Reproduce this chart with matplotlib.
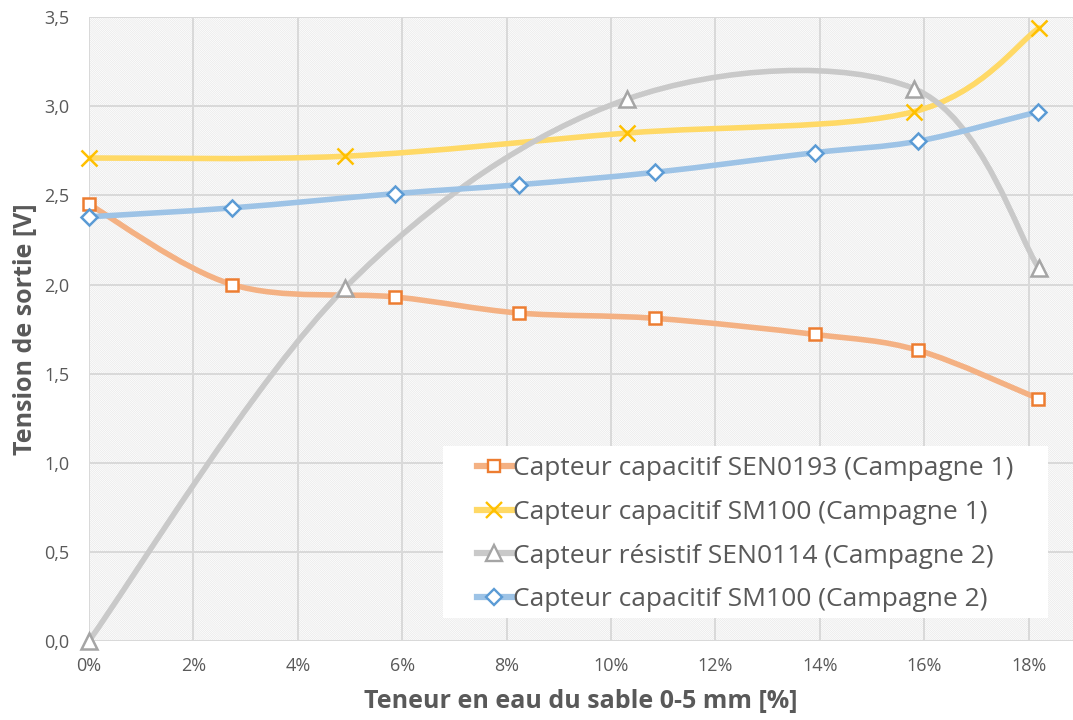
import numpy as np
import matplotlib.pyplot as plt
from matplotlib.path import Path
from matplotlib.patches import PathPatch, Rectangle
from matplotlib.lines import Line2D

# teneur en eau [%]
x_c1 = [0.0, 4.9, 10.3, 15.8, 18.2]
x_c2 = [0.0, 2.74, 5.86, 8.23, 10.85, 13.9, 15.89, 18.18]

sen0193_c1 = [2.45, 2.00, 1.93, 1.84, 1.81, 1.72, 1.63, 1.36]
sm100_c1 = [2.71, 2.72, 2.85, 2.97, 3.44]
sen0114_c2 = [0.0, 1.98, 3.04, 3.10, 2.09]
sm100_c2 = [2.38, 2.43, 2.51, 2.56, 2.63, 2.74, 2.805, 2.97]

labels = ["Capteur capacitif SEN0193 (Campagne 1)",
          "Capteur capacitif SM100 (Campagne 1)",
          "Capteur résistif SEN0114 (Campagne 2)",
          "Capteur capacitif SM100 (Campagne 2)"]

TXT = "#595959"
plt.rcParams["font.family"] = ["Open Sans", "DejaVu Sans"]
plt.rcParams["hatch.linewidth"] = 0.5


def smooth_path(x, y):
    # courbe lissée facon Excel (Bezier / Catmull-Rom)
    p = np.column_stack([x, y])
    n = len(p)
    verts = [p[0]]
    codes = [Path.MOVETO]
    for i in range(n - 1):
        p0 = p[max(i - 1, 0)]
        p3 = p[min(i + 2, n - 1)]
        c1 = p[i] + (p[i + 1] - p0) / 6
        c2 = p[i + 1] - (p3 - p[i]) / 6
        verts += [c1, c2, p[i + 1]]
        codes += [Path.CURVE4] * 3
    return Path(verts, codes)


def main():
    fig = plt.figure(figsize=(10.73, 7.2), dpi=100)
    ax = fig.add_axes([0.083, 0.11, 0.917, 0.866])

    ax.add_patch(Rectangle((0, 0), 1, 1, transform=ax.transAxes, facecolor="white",
                           edgecolor="#e8e8e8", hatch="\\" * 16, lw=0, zorder=0))

    series = [
        (x_c2, sen0193_c1, "#f4b183", "#ed7d31", "s", 9),
        (x_c1, sm100_c1, "#ffd966", "#ffc000", "x", 12),
        (x_c1, sen0114_c2, "#c9c9c9", "#a5a5a5", "^", 11),
        (x_c2, sm100_c2, "#9dc3e6", "#5b9bd5", "D", 8),
    ]
    handles = []
    for k, (xs, ys, lc, mc, mk, ms) in enumerate(series):
        ax.add_patch(PathPatch(smooth_path(xs, ys), facecolor="none", edgecolor=lc,
                               lw=4, capstyle="round", zorder=2 + k))
        ax.plot(xs, ys, ls="none", marker=mk, ms=ms, mfc="white", mec=mc, mew=1.8,
                zorder=6 + k, clip_on=False)
        handles.append(Line2D([], [], color=lc, lw=4.5, marker=mk, ms=ms,
                              mfc="white", mec=mc, mew=1.7))

    ax.set_xlim(0, 18.85)
    ax.set_ylim(0, 3.5)
    ax.set_xticks(np.arange(0, 19, 2))
    ax.set_xticklabels(["%d%%" % v for v in range(0, 19, 2)])
    yt = np.arange(0, 3.51, 0.5)
    ax.set_yticks(yt)
    ax.set_yticklabels([("%.1f" % v).replace(".", ",") for v in yt])
    ax.tick_params(length=0, labelsize=13, colors=TXT)
    ax.tick_params(axis="x", pad=12)
    ax.tick_params(axis="y", pad=14)
    ax.grid(True, color="#d9d9d9", lw=1.4, zorder=1)
    for s in ax.spines.values():
        s.set_visible(False)

    ax.set_xlabel("Teneur en eau du sable 0-5 mm [%]", fontsize=18, fontweight="bold",
                  color=TXT, labelpad=10)
    ax.set_ylabel("Tension de sortie [V]", fontsize=18, fontweight="bold", color=TXT,
                  labelpad=5)

    # fond blanc de la légende
    ax.add_patch(Rectangle((0.3598, 0.0369), 0.6148, 0.2756, transform=ax.transAxes,
                           facecolor="white", edgecolor="none", zorder=15))
    leg = ax.legend(handles, labels, loc="upper left", bbox_to_anchor=(0.394, 0.296),
                    fontsize=19, frameon=False, handlelength=1.33,
                    handletextpad=0.05, borderpad=0, labelspacing=0.71,
                    borderaxespad=0)
    leg.set_zorder(20)
    for t in leg.get_texts():
        t.set_color(TXT)

    fig.savefig("out.png", dpi=100)
    plt.close("all")


if __name__ == "__main__":
    main()
